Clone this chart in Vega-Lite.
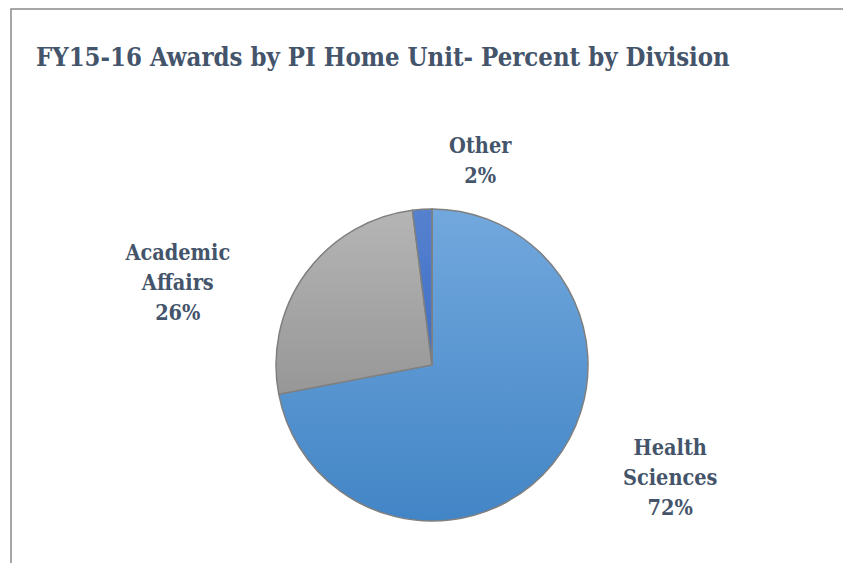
{
  "$schema": "https://vega.github.io/schema/vega-lite/v6.json",
  "autosize": "none",
  "padding": {"left": 11, "top": 9, "right": 0, "bottom": 0},
  "width": 842,
  "height": 712,
  "background": "white",
  "config": {"view": {"stroke": null}},
  "title": {
    "text": "FY15-16 Awards by PI Home Unit- Percent by Division",
    "anchor": "start",
    "frame": "group",
    "orient": "top",
    "offset": -52,
    "dx": 25,
    "dy": 31,
    "baseline": "alphabetic",
    "font": "DejaVu Serif Condensed",
    "fontSize": 25.5,
    "fontWeight": "bold",
    "color": "#44546a"
  },
  "data": {
    "values": [
      {"division": "Health Sciences", "pct": 72, "label": "Health\nSciences\n72%"},
      {"division": "Academic Affairs", "pct": 26, "label": "Academic\nAffairs\n26%"},
      {"division": "Other", "pct": 2, "label": "Other\n2%"}
    ]
  },
  "layer": [
    {
      "data": {"values": [{"frame": "border"}]},
      "mark": {"type": "rect", "fill": "transparent", "stroke": "#898989", "strokeWidth": 1.5},
      "encoding": {
        "x": {"value": 0}, "x2": {"value": "width"},
        "y": {"value": 0}, "y2": {"value": "height"}
      }
    },
    {
      "transform": [
        {"stack": "pct", "groupby": [], "sort": [{"field": "pct", "order": "descending"}], "as": ["s", "e"]},
        {"filter": "datum.division === 'Health Sciences'"}
      ],
      "mark": {
        "type": "arc", "outerRadius": 156, "stroke": "#7f7f7f", "strokeWidth": 1.5,
        "fill": {"gradient": "linear", "x1": 0, "y1": 0, "x2": 0, "y2": 1,
          "stops": [{"offset": 0, "color": "#72a8dd"}, {"offset": 1, "color": "#4285c6"}]}
      },
      "encoding": {
        "theta": {"field": "s", "type": "quantitative", "scale": {"domain": [0, 100]}},
        "theta2": {"field": "e"}
      }
    },
    {
      "transform": [
        {"stack": "pct", "groupby": [], "sort": [{"field": "pct", "order": "descending"}], "as": ["s", "e"]},
        {"filter": "datum.division === 'Academic Affairs'"}
      ],
      "mark": {
        "type": "arc", "outerRadius": 156, "stroke": "#7f7f7f", "strokeWidth": 1.5,
        "fill": {"gradient": "linear", "x1": 0, "y1": 0, "x2": 0, "y2": 1,
          "stops": [{"offset": 0, "color": "#b5b5b5"}, {"offset": 1, "color": "#979797"}]}
      },
      "encoding": {
        "theta": {"field": "s", "type": "quantitative", "scale": {"domain": [0, 100]}},
        "theta2": {"field": "e"}
      }
    },
    {
      "transform": [
        {"stack": "pct", "groupby": [], "sort": [{"field": "pct", "order": "descending"}], "as": ["s", "e"]},
        {"filter": "datum.division === 'Other'"}
      ],
      "mark": {
        "type": "arc", "outerRadius": 156, "stroke": "#7f7f7f", "strokeWidth": 1.5,
        "fill": {"gradient": "linear", "x1": 0, "y1": 0, "x2": 0, "y2": 1,
          "stops": [{"offset": 0, "color": "#5581cf"}, {"offset": 1, "color": "#3f6fc4"}]}
      },
      "encoding": {
        "theta": {"field": "s", "type": "quantitative", "scale": {"domain": [0, 100]}},
        "theta2": {"field": "e"}
      }
    },
    {
      "mark": {"type": "text", "radius": 156, "dx": 118, "dy": -9, "align": "center", "baseline": "alphabetic",
        "lineBreak": "\n", "lineHeight": 30, "font": "DejaVu Serif Condensed", "fontSize": 21.5, "fontWeight": "bold", "color": "#44546a"},
      "encoding": {
        "theta": {"field": "pct", "type": "quantitative", "stack": true, "scale": {"domain": [0, 100]}},
        "order": {"field": "pct", "sort": "descending"},
        "detail": {"field": "division"},
        "text": {"condition": {"test": "datum.division === 'Health Sciences'", "field": "label"}, "value": ""}
      }
    },
    {
      "mark": {"type": "text", "radius": 156, "dx": -128, "dy": -13, "align": "center", "baseline": "alphabetic",
        "lineBreak": "\n", "lineHeight": 30, "font": "DejaVu Serif Condensed", "fontSize": 21.5, "fontWeight": "bold", "color": "#44546a"},
      "encoding": {
        "theta": {"field": "pct", "type": "quantitative", "stack": true, "scale": {"domain": [0, 100]}},
        "order": {"field": "pct", "sort": "descending"},
        "detail": {"field": "division"},
        "text": {"condition": {"test": "datum.division === 'Academic Affairs'", "field": "label"}, "value": ""}
      }
    },
    {
      "mark": {"type": "text", "radius": 156, "dx": 58, "dy": -56, "align": "center", "baseline": "alphabetic",
        "lineBreak": "\n", "lineHeight": 30, "font": "DejaVu Serif Condensed", "fontSize": 21.5, "fontWeight": "bold", "color": "#44546a"},
      "encoding": {
        "theta": {"field": "pct", "type": "quantitative", "stack": true, "scale": {"domain": [0, 100]}},
        "order": {"field": "pct", "sort": "descending"},
        "detail": {"field": "division"},
        "text": {"condition": {"test": "datum.division === 'Other'", "field": "label"}, "value": ""}
      }
    }
  ]
}
